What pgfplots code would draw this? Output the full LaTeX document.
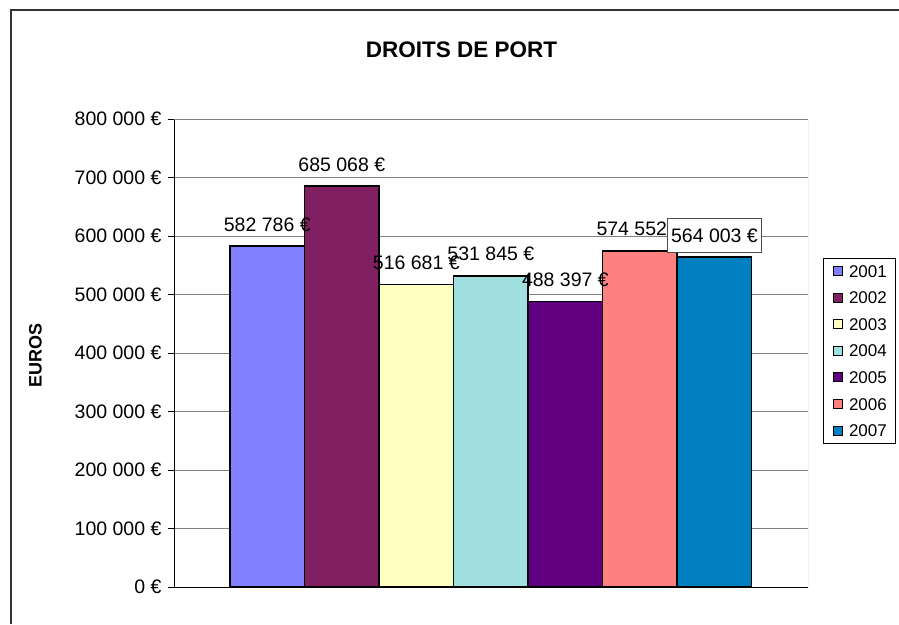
\documentclass[border=0pt]{standalone}
\usepackage{fontspec}
\setmainfont{Liberation Sans}
\usepackage{pgfplots}
\pgfplotsset{compat=1.18}
\definecolor{c2001}{RGB}{128,128,255}
\definecolor{c2002}{RGB}{128,32,96}
\definecolor{c2003}{RGB}{255,255,192}
\definecolor{c2004}{RGB}{160,224,224}
\definecolor{c2005}{RGB}{96,0,128}
\definecolor{c2006}{RGB}{255,128,128}
\definecolor{c2007}{RGB}{0,128,192}
\definecolor{gridgray}{RGB}{128,128,128}
\definecolor{framegray}{RGB}{51,51,51}
\newcommand\lblfont{\fontsize{19.5}{22}\selectfont}

\pgfplotsset{
  bar/.style={ybar, bar shift=0pt, bar width=74.53pt, draw=black, line width=1.5pt,
    legend image code/.code={\draw[##1, line width=1pt] (0pt,-4.5pt) rectangle (9pt,4.5pt);}},
}

\begin{document}
\begin{tikzpicture}
\useasboundingbox (0,0) rectangle (899pt,624pt);
\draw[framegray, line width=2pt] (10.5pt,0pt) -- (10.5pt,613.5pt) -- (899pt,613.5pt);
\node[anchor=base, font=\bfseries\fontsize{22.5}{26}\selectfont] at (461.5pt,566.7pt) {DROITS DE PORT};
\node[rotate=90, font=\bfseries\fontsize{18}{22}\selectfont] at (35.5pt,268.5pt) {EUROS};
\begin{axis}[
  at={(174pt,37pt)}, anchor=south west,
  scale only axis, width=634pt, height=468pt,
  xmin=174, xmax=808, ymin=0, ymax=800000,
  axis x line*=bottom, axis y line*=left,
  axis line style={black, line width=1pt},
  xtick=\empty,
  scaled y ticks=false,
  ytick={0,100000,200000,300000,400000,500000,600000,700000,800000},
  yticklabels={0 €,100 000 €,200 000 €,300 000 €,400 000 €,500 000 €,600 000 €,700 000 €,800 000 €},
  yticklabel style={font=\lblfont, xshift=-3pt},
  tick align=outside, major tick length=6pt,
  ytick style={black, line width=1pt},
  ymajorgrids, grid style={gridgray, line width=1pt},
  legend style={at={(1.02366,0.70299)}, anchor=north west, draw=black, line width=1pt,
    fill=white, inner xsep=9pt, inner ysep=6.6pt, row sep=14.35pt,
    nodes={font=\fontsize{17}{20}\selectfont, inner sep=0pt, text height=12.2pt, text depth=0pt},
    /tikz/every odd column/.append style={column sep=6.5pt}},
  legend cell align=left,
]
\draw[gridgray, line width=1pt] (rel axis cs:0,1) -- (rel axis cs:1,1) -- (rel axis cs:1,0);

\addplot[bar, fill=c2001] coordinates {(267.27,582786)};
\addlegendentry{2001}
\addplot[bar, fill=c2002] coordinates {(341.80,685068)};
\addlegendentry{2002}
\addplot[bar, fill=c2003] coordinates {(416.33,516681)};
\addlegendentry{2003}
\addplot[bar, fill=c2004] coordinates {(490.86,531845)};
\addlegendentry{2004}
\addplot[bar, fill=c2005] coordinates {(565.39,488397)};
\addlegendentry{2005}
\addplot[bar, fill=c2006] coordinates {(639.92,574552)};
\addlegendentry{2006}
\addplot[bar, fill=c2007] coordinates {(714.45,564003)};
\addlegendentry{2007}

% value labels, drawn over all bars
\addplot[ybar, bar shift=0pt, bar width=74.53pt, draw=none, fill=none, forget plot,
  point meta=explicit symbolic, nodes near coords={\pgfplotspointmeta},
  every node near coord/.append style={anchor=base, yshift=15pt, font=\lblfont,
    inner sep=0pt, text=black}]
coordinates {
  (267.27,582786) [582 786 €]
  (341.80,685068) [685 068 €]
  (416.33,516681) [516 681 €]
  (490.86,531845) [531 845 €]
  (565.39,488397) [488 397 €]
  (639.92,574552) [574 552 €]
};
\addplot[ybar, bar shift=0pt, bar width=74.53pt, draw=none, fill=none, forget plot,
  point meta=explicit symbolic, nodes near coords={\pgfplotspointmeta},
  every node near coord/.append style={anchor=center, yshift=21.5pt, font=\lblfont,
    draw=black!70, line width=1pt, fill=white, text=black, inner xsep=3.5pt, inner ysep=0pt,
    text height=14pt, text depth=0pt, minimum height=34pt}]
coordinates {(714.45,564003) [564 003 €]};
\end{axis}
\end{tikzpicture}
\end{document}
